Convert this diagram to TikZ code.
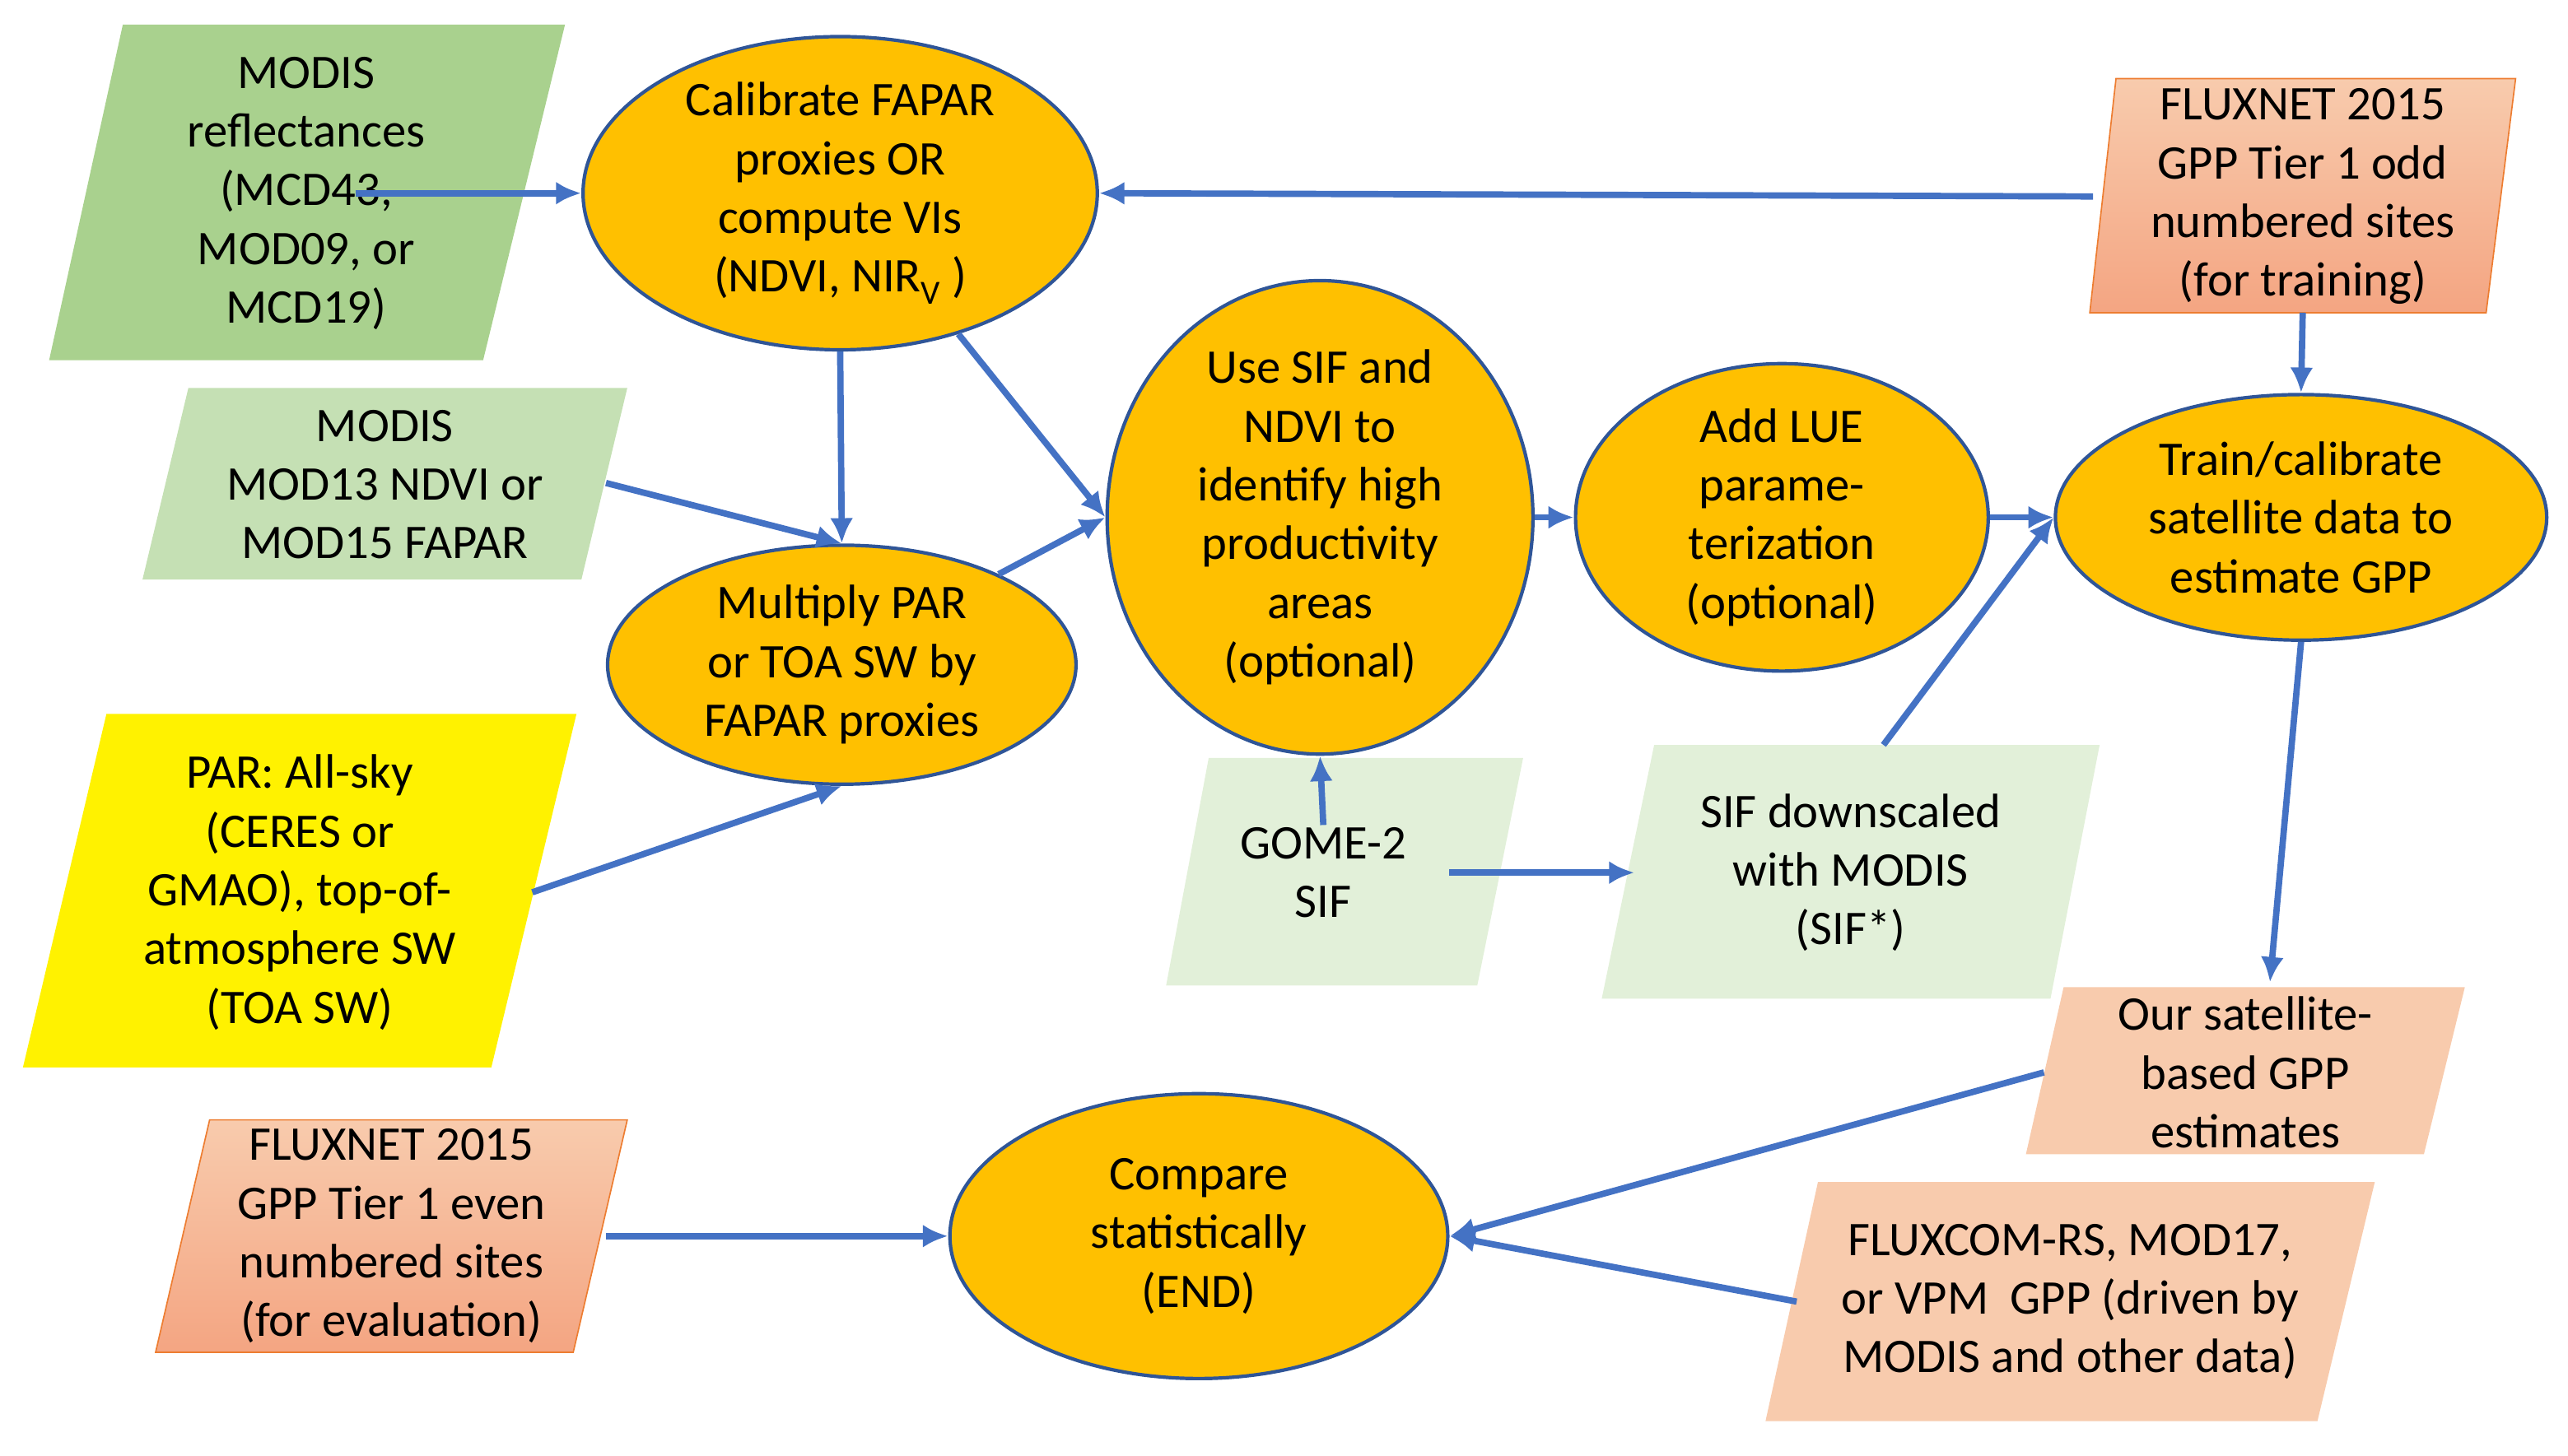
\documentclass[tikz,border=0pt]{standalone}
\usepackage{fontspec}
\setmainfont{Carlito}
\usetikzlibrary{shapes.geometric,arrows.meta}
\definecolor{ora}{HTML}{FFC000}
\definecolor{eb}{HTML}{2F5597}
\definecolor{ab}{HTML}{4472C4}
\definecolor{g1}{HTML}{A9D18E}
\definecolor{g2}{HTML}{C5E0B4}
\definecolor{g3}{HTML}{E2F0D9}
\definecolor{s1}{HTML}{F8CBAD}
\definecolor{s2}{HTML}{F4A582}
\definecolor{so}{HTML}{ED7D31}
\begin{document}
\begin{tikzpicture}[x=0.05cm,y=-0.05cm,
 txt/.style={align=center,font=\fontsize{42}{51}\selectfont},
 ell/.style 2 args={ellipse,draw=eb,line width=3pt,fill=ora,inner sep=0pt,txt,minimum width=#1*0.05cm,minimum height=#2*0.05cm},
 arr/.style={draw=ab,line width=5.5pt,-{Latex[length=22pt,width=20pt]}}]
\useasboundingbox (0,0) rectangle (1568,889);
% parallelograms
\fill[g1] (75,15)--(345,15)--(295,220)--(30,220)--cycle;
\node[txt] (refl) at (187,118) {MODIS\\reflectances\\(MCD43,\\MOD09, or\\MCD19)};
\fill[g2] (115,237)--(383,237)--(355,354)--(87,354)--cycle;
\node[txt] (m13) at (235,296) {MODIS\\MOD13 NDVI or\\MOD15 FAPAR};
\fill[yellow] (65,436)--(352,436)--(300,652)--(14,652)--cycle;
\node[txt] (par) at (183,545) {PAR: All-sky\\(CERES or\\GMAO), top-of-\\atmosphere SW\\(TOA SW)};
\draw[so,line width=1.2pt,top color=s1,bottom color=s2] (128,684)--(383,684)--(350,826)--(95,826)--cycle;
\node[txt] (even) at (239,755) {FLUXNET 2015\\GPP Tier 1 even\\numbered sites\\(for evaluation)};
\draw[so,line width=1.2pt,top color=s1,bottom color=s2] (1292,48)--(1536,48)--(1518,191)--(1276,191)--cycle;
\node[txt] (odd) at (1406,120) {FLUXNET 2015\\GPP Tier 1 odd\\numbered sites\\(for training)};
\fill[g3] (738,463)--(930,463)--(902,602)--(712,602)--cycle;
\node[txt] (gome) at (808,533) {GOME-2\\SIF};
\fill[g3] (1010,455)--(1282,455)--(1252,610)--(978,610)--cycle;
\node[txt] (sifd) at (1130,533) {SIF downscaled\\with MODIS\\(SIF*)};
\fill[s1] (1260,603)--(1505,603)--(1480,705)--(1237,705)--cycle;
\node[txt] (ours) at (1371,655) {Our satellite-\\based GPP\\estimates};
\fill[s1] (1110,722)--(1450,722)--(1415,868)--(1078,868)--cycle;
\node[txt] (fcom) at (1264,795) {FLUXCOM-RS, MOD17,\\or VPM\ \ GPP (driven by\\MODIS and other data)};
% ellipses
\node[ell={314}{180}] (cal) at (513,118) {Calibrate FAPAR\\proxies OR\\compute VIs\\(NDVI, NIR\textsubscript{V} )};
\node[ell={286}{146}] (mul) at (514,406) {Multiply PAR\\or TOA SW by\\FAPAR proxies};
\node[ell={260}{268}] (sif) at (806,316) {Use SIF and\\NDVI to\\identify high\\productivity\\areas\\(optional)};
\node[ell={252}{180}] (lue) at (1088,316) {Add LUE\\parame-\\terization\\(optional)};
\node[ell={300}{150}] (trn) at (1405,316) {Train/calibrate\\satellite data to\\estimate GPP};
\node[ell={304}{174}] (cmp) at (732,755) {Compare\\statistically\\(END)};
% arrows
\draw[arr] (refl.east |- cal.west) ++(-45,0) -- (cal.west);
\draw[arr] (1278,120) -- (cal.east);
\draw[arr] (cal.south) -- (mul.north);
\draw[arr] (370,295) -- (mul.north);
\draw[arr] (325,545) -- (mul.south);
\draw[arr] (cal.-50) -- (sif.west);
\draw[arr] (mul.30) -- (sif.west);
\draw[arr] (gome.north) ++(0,1) -- (sif.south);
\draw[arr] (885,533) -- (998,533);
\draw[arr] (sif.east) -- (lue.west);
\draw[arr] (lue.east) -- (trn.west);
\draw[arr] (1150,455) -- (trn.west);
\draw[arr] (1406,191) -- (trn.north);
\draw[arr] (trn.south) -- (1386,600);
\draw[arr] (1248,655) -- (cmp.east);
\draw[arr] (1097,795) -- (cmp.east);
\draw[arr] (370,755) -- (cmp.west);
\end{tikzpicture}
\end{document}
